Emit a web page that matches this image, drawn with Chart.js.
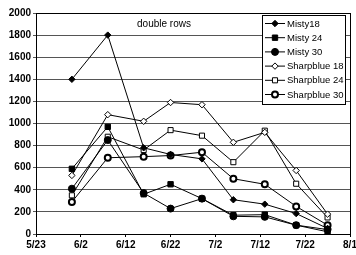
<!DOCTYPE html>
<html>
<head>
<meta charset="utf-8">
<script src="https://cdn.jsdelivr.net/npm/chart.js@4/dist/chart.umd.min.js"></script>
<style>
  html, body { margin: 0; padding: 0; background: #fff; }
  #wrap { width: 356px; height: 255px; overflow: hidden; }
</style>
</head>
<body>
<div id="wrap"><canvas id="myChart" width="364" height="255"></canvas></div>
<script>
// days after 5/23 for each sampling date
let sampleDays = [8, 16, 24, 30, 37, 44, 51, 58, 65];
let xTickLabels = ['5/23', '6/2', '6/12', '6/22', '7/2', '7/12', '7/22', '8/1'];

let MISTY_18 = [1400, 1800, 780, 720, 680, 310, 270, 185, 50];
let MISTY_24 = [590, 970, 360, 450, 320, 170, 175, 80, 20];
let MISTY_30 = [410, 850, 370, 230, 320, 160, 155, 80, 40];
let SHARPBLUE_18 = [530, 1080, 1020, 1190, 1170, 830, 920, 575, 180];
let SHARPBLUE_24 = [350, 880, 760, 940, 890, 650, 935, 455, 150];
let SHARPBLUE_30 = [290, 690, 700, 710, 740, 500, 450, 250, 80];

function points(vals) {
    return vals.map(function(v, i) { return { x: sampleDays[i], y: v }; });
}

function series(label, vals, style, radius, fill, bw) {
    return {
        label: label,
        data: points(vals),
        borderColor: '#000',
        borderWidth: 1,
        pointStyle: style,
        pointRadius: radius,
        pointBackgroundColor: fill,
        pointBorderColor: '#000',
        pointBorderWidth: bw,
        fill: false,
        tension: 0
    };
}

let font = "'Liberation Sans', Arial, sans-serif";

// frame, title and boxed legend inside the plot
let extras = {
    id: 'extras',
    afterDraw: function(chart) {
        let ctx = chart.ctx;
        let a = chart.chartArea;
        ctx.save();
        ctx.strokeStyle = '#000';
        ctx.lineWidth = 1;
        ctx.strokeRect(a.left + 0.5, a.top + 0.5, a.right - a.left, a.bottom - a.top);

        ctx.fillStyle = '#000';
        ctx.font = '10px ' + font;
        ctx.textAlign = 'center';
        ctx.textBaseline = 'middle';
        ctx.fillText('double rows', 164, 24);

        let bx = 262, by = 15, bw = 83, bh = 89;
        ctx.fillStyle = '#fff';
        ctx.fillRect(bx, by, bw, bh);
        ctx.strokeRect(bx + 0.5, by + 0.5, bw, bh);

        ctx.textAlign = 'left';
        ctx.font = '9.5px ' + font;
        chart.data.datasets.forEach(function(ds, i) {
            let y = 23.5 + i * 14.2;
            ctx.beginPath();
            ctx.moveTo(265, y);
            ctx.lineTo(285, y);
            ctx.strokeStyle = '#000';
            ctx.lineWidth = 1;
            ctx.stroke();
            ctx.fillStyle = ds.pointBackgroundColor;
            ctx.strokeStyle = '#000';
            ctx.lineWidth = ds.pointBorderWidth;
            Chart.helpers.drawPoint(ctx, {
                pointStyle: ds.pointStyle,
                radius: ds.pointRadius,
                rotation: 0,
                borderWidth: ds.pointBorderWidth
            }, 275, y);
            ctx.fillStyle = '#000';
            ctx.fillText(ds.label, 287, y + 0.5);
        });
        ctx.restore();
    }
};

document.addEventListener("DOMContentLoaded", function() {
    let ctx = document.getElementById("myChart").getContext("2d");
    let myChart = new Chart(ctx, {
        type: 'line',
        data: {
            datasets: [
                series('Misty18', MISTY_18, 'rectRot', 3.2, '#000', 1),
                series('Misty 24', MISTY_24, 'rect', 3.8, '#000', 1),
                series('Misty 30', MISTY_30, 'circle', 3.5, '#000', 1),
                series('Sharpblue 18', SHARPBLUE_18, 'rectRot', 3.2, '#fff', 1),
                series('Sharpblue 24', SHARPBLUE_24, 'rect', 3.6, '#fff', 1),
                series('Sharpblue 30', SHARPBLUE_30, 'circle', 3, '#fff', 2)
            ]
        },
        options: {
            responsive: false,
            animation: false,
            layout: { padding: { top: 13, right: 14, left: 0, bottom: 0 } },
            plugins: {
                legend: { display: false },
                tooltip: { enabled: false }
            },
            scales: {
                x: {
                    type: 'linear',
                    min: 0,
                    max: 70,
                    afterFit: function(s) { s.height = 21; },
                    ticks: {
                        stepSize: 10,
                        autoSkip: false,
                        maxRotation: 0,
                        padding: 2,
                        color: '#000',
                        font: { family: font, size: 10, weight: 'bold' },
                        callback: function(v) { return xTickLabels[Math.round(v / 10)]; }
                    },
                    grid: { drawOnChartArea: false, tickLength: 3, color: '#000' },
                    border: { color: '#000' }
                },
                y: {
                    min: 0,
                    max: 2000,
                    afterFit: function(s) { s.width = 36; },
                    ticks: {
                        stepSize: 200,
                        padding: 2,
                        color: '#000',
                        font: { family: font, size: 10, weight: 'bold' },
                        callback: function(v) { return String(v); }
                    },
                    grid: { color: '#555', tickLength: 3 },
                    border: { color: '#000' }
                }
            }
        },
        plugins: [extras]
    });
});
</script>
</body>
</html>
